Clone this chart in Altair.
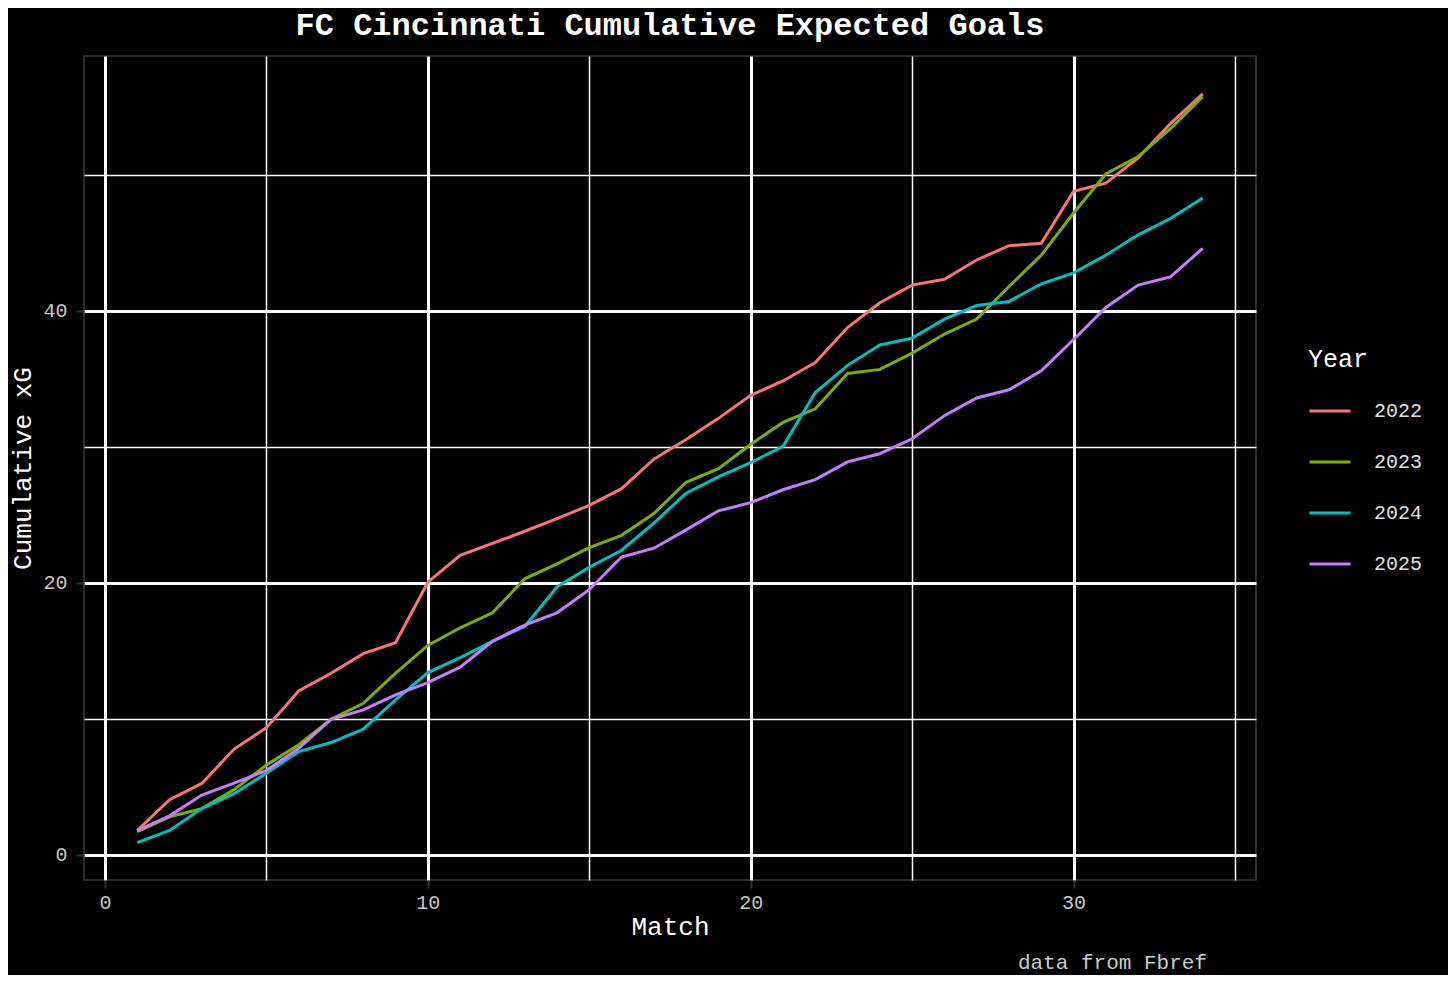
import altair as alt
import pandas as pd

matches = list(range(1, 35))
years = ["2022", "2023", "2024", "2025"]
xg_2022 = [1.79, 4.05, 5.25, 7.78, 9.35, 12.05, 13.35, 14.8, 15.6, 20.05, 22.03, 22.9, 23.8, 24.72, 25.7, 26.93, 29.1, 30.55, 32.1, 33.8, 34.85, 36.2, 38.78, 40.6, 41.9, 42.33, 43.75, 44.8, 44.98, 48.8, 49.4, 51.25, 53.78, 55.96]
xg_2023 = [1.7, 2.8, 3.4, 4.8, 6.6, 8.1, 9.97, 11.15, 13.36, 15.4, 16.7, 17.8, 20.3, 21.4, 22.6, 23.5, 25.1, 27.4, 28.4, 30.2, 31.8, 32.8, 35.4, 35.7, 36.9, 38.3, 39.4, 41.8, 44.1, 47.2, 50.07, 51.35, 53.4, 55.76]
xg_2024 = [0.9, 1.8, 3.4, 4.5, 6.0, 7.6, 8.26, 9.24, 11.4, 13.4, 14.5, 15.7, 16.8, 19.7, 21.15, 22.4, 24.4, 26.6, 27.8, 28.85, 30.05, 34.0, 36.0, 37.5, 38.0, 39.4, 40.4, 40.7, 42.0, 42.8, 44.1, 45.6, 46.8, 48.3]
xg_2025 = [1.79, 2.87, 4.4, 5.27, 6.2, 7.84, 9.97, 10.66, 11.76, 12.67, 13.8, 15.7, 16.9, 17.8, 19.5, 21.9, 22.55, 23.9, 25.3, 25.9, 26.85, 27.6, 28.9, 29.5, 30.6, 32.3, 33.6, 34.2, 35.6, 37.9, 40.26, 41.9, 42.5, 44.6]
colors = ["#F8766D", "#7CAE00", "#00BFC4", "#C77CFF"]
x_ticks = [0, 5, 10, 15, 20, 25, 30, 35]
y_ticks = [0, 10, 20, 30, 40, 50]

series = {"2022": xg_2022, "2023": xg_2023, "2024": xg_2024, "2025": xg_2025}
rows = []
for yr, vals in series.items():
    for m, v in zip(matches, vals):
        rows.append({"Match": m, "xG": v, "Year": yr})
df = pd.DataFrame(rows)

FONT = "Liberation Mono"

x_axis = alt.Axis(
    values=x_ticks,
    labelExpr="datum.value % 10 === 0 ? datum.label : ''",
    grid=True,
    gridColor="white",
    gridWidth=alt.condition("datum.value % 10 === 0", alt.value(3), alt.value(1.5)),
    domain=False,
    tickColor="#333333",
    tickWidth=2,
    tickSize=8,
    tickOpacity=alt.condition("datum.value % 10 === 0", alt.value(1), alt.value(0)),
    labelColor="#c8c8c8",
    labelFont=FONT,
    labelFontSize=20,
    labelPadding=4,
    title="Match",
    titleColor="white",
    titleFont=FONT,
    titleFontSize=26,
    titleFontWeight="normal",
    titlePadding=1,
)
y_axis = alt.Axis(
    values=y_ticks,
    labelExpr="datum.value % 20 === 0 ? datum.label : ''",
    grid=True,
    gridColor="white",
    gridWidth=alt.condition("datum.value % 20 === 0", alt.value(3), alt.value(1.5)),
    domain=False,
    tickColor="#333333",
    tickWidth=2,
    tickSize=8,
    tickOpacity=alt.condition("datum.value % 20 === 0", alt.value(1), alt.value(0)),
    labelColor="#c8c8c8",
    labelFont=FONT,
    labelFontSize=20,
    labelPadding=9,
    title="Cumulative xG",
    titleColor="white",
    titleFont=FONT,
    titleFontSize=26,
    titleFontWeight="normal",
    titlePadding=7,
)

lines = alt.Chart(df).mark_line(strokeWidth=3).encode(
    x=alt.X("Match:Q", scale=alt.Scale(domain=[-0.65, 35.65], nice=False, zero=False), axis=x_axis),
    y=alt.Y("xG:Q", scale=alt.Scale(domain=[-1.85, 58.75], nice=False, zero=False), axis=y_axis),
    color=alt.Color(
        "Year:N",
        scale=alt.Scale(domain=years, range=colors),
        legend=alt.Legend(
            orient="none",
            legendX=1224,
            legendY=291,
            title="Year",
            titleColor="white",
            titleFont=FONT,
            titleFontSize=25,
            titleFontWeight="normal",
            titlePadding=17,
            labelColor="#e0e0e0",
            labelFont=FONT,
            labelFontSize=20,
            labelOffset=22,
            symbolType="stroke",
            symbolSize=1681,
            symbolStrokeWidth=3,
            rowPadding=19,
            padding=0,
        ),
    ),
)

caption = alt.Chart(pd.DataFrame({"t": ["data from Fbref"]})).mark_text(
    align="right", baseline="middle", font=FONT, fontSize=21, color="#cccccc"
).encode(text="t:N", x=alt.value(1123), y=alt.value(907))

chart = (
    alt.layer(lines, caption)
    .properties(
        width=1172,
        height=824,
        background="black",
        padding={"left": 76, "top": 48, "right": 192, "bottom": 95},
        autosize=alt.AutoSizeParams(type="none"),
        title=alt.TitleParams(
            "FC Cincinnati Cumulative Expected Goals",
            font=FONT,
            fontSize=32,
            fontWeight="bold",
            color="white",
            anchor="middle",
            frame="group",
            offset=14,
        ),
    )
    .configure_view(stroke="#3a3a3a", strokeWidth=1.5, fill="black")
)

chart.save("out.html", embed_options={"renderer": "svg", "actions": False})
